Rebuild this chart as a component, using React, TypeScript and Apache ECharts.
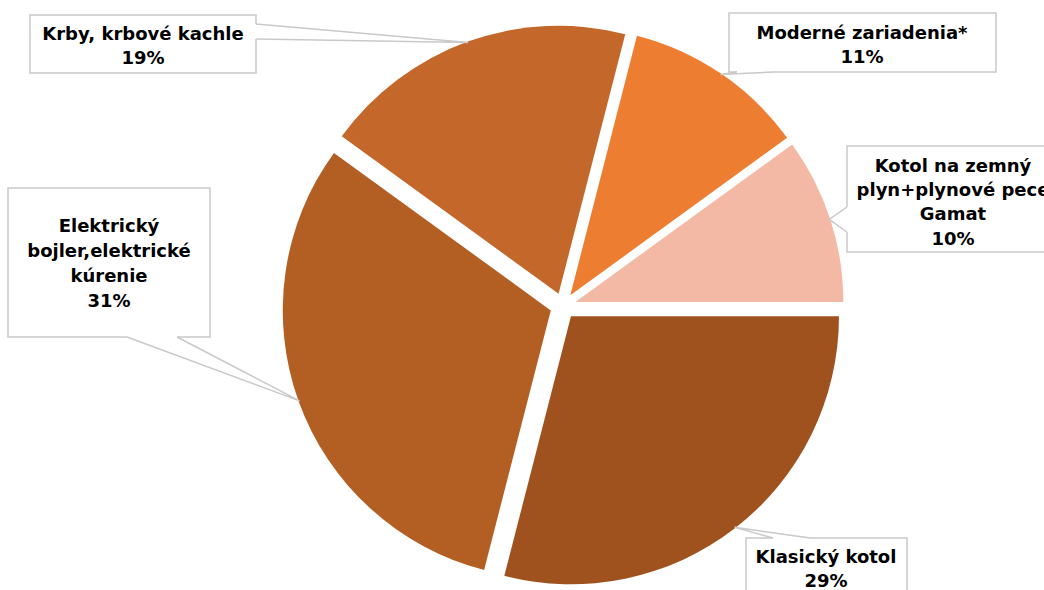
import React, { useEffect, useRef } from "react";
import * as echarts from "echarts";

const categories = [
  "Kotol na zemný\nplyn+plynové pece\nGamat",
  "Moderné zariadenia*",
  "Krby, krbové kachle",
  "Elektrický\nbojler,elektrické\nkúrenie",
  "Klasický kotol",
];
const shares = [10, 11, 19, 31, 29];
const colors = ["#F4B9A5", "#ED7D31", "#C4672A", "#B35E23", "#A0521E"];

// pie geometry
const CENTER: [number, number] = [563, 306];
const RADIUS = 268;
const EXPLODE = 13;

// callout boxes: rect, text centre/top, line height, wedge base points
const boxes = [
  { x: 847, y: 146, w: 212, h: 106, tx: 953, ty: 153, lh: 24.3, a: [847, 207], b: [847, 232], inw: [2, 0] },
  { x: 729, y: 13, w: 267, h: 59, tx: 862, ty: 20, lh: 24, a: [737, 72], b: [773, 72], inw: [0, -2] },
  { x: 30, y: 15, w: 226, h: 58, tx: 143, ty: 21, lh: 24.5, a: [256, 24], b: [256, 39], inw: [-2, 0] },
  { x: 8, y: 188, w: 202, h: 149, tx: 109, ty: 212.5, lh: 25, a: [127, 337], b: [177, 337], inw: [0, -2] },
  { x: 746, y: 538, w: 161, h: 70, tx: 826, ty: 545, lh: 23.5, a: [773, 538], b: [810, 538], inw: [0, 2] },
];

const BORDER = "#C9C9C9";

function buildCallouts() {
  const total = shares.reduce((s, v) => s + v, 0);
  let cum = 0;
  const els: any[] = [];
  shares.forEach((v, i) => {
    const mid = ((cum + v / 2) / total) * 2 * Math.PI;
    cum += v;
    const rr = RADIUS + EXPLODE - 1;
    const anchor = [CENTER[0] + rr * Math.cos(mid), CENTER[1] - rr * Math.sin(mid)];
    const bx = boxes[i];
    const aIn = [bx.a[0] + bx.inw[0], bx.a[1] + bx.inw[1]];
    const bIn = [bx.b[0] + bx.inw[0], bx.b[1] + bx.inw[1]];
    els.push({
      type: "rect",
      shape: { x: bx.x, y: bx.y, width: bx.w, height: bx.h },
      style: { fill: "#ffffff", stroke: BORDER, lineWidth: 1.5 },
      z: 10,
    });
    els.push({
      type: "polygon",
      shape: { points: [aIn, bx.a, anchor, bx.b, bIn] },
      style: { fill: "#ffffff", stroke: null },
      z: 11,
    });
    els.push({
      type: "polyline",
      shape: { points: [bx.a, anchor, bx.b] },
      style: { fill: null, stroke: BORDER, lineWidth: 1.5 },
      z: 12,
    });
    els.push({
      type: "text",
      x: bx.tx,
      y: bx.ty,
      style: {
        text: categories[i] + "\n" + v + "%",
        align: "center",
        verticalAlign: "top",
        fontFamily: "DejaVu Sans",
        fontWeight: "bold",
        fontSize: 18,
        lineHeight: bx.lh,
        fill: "#000000",
      },
      z: 13,
    });
  });
  return els;
}

export default function App() {
  const ref = useRef<HTMLDivElement>(null);
  useEffect(() => {
    if (!ref.current) return;
    const chart = echarts.init(ref.current, undefined, { renderer: "svg" });
    chart.setOption({
      animation: false,
      backgroundColor: "#ffffff",
      series: [
        {
          type: "pie",
          center: CENTER,
          radius: RADIUS,
          startAngle: 0,
          clockwise: false,
          selectedMode: "multiple",
          selectedOffset: EXPLODE,
          emphasis: { disabled: true },
          label: { show: false },
          labelLine: { show: false },
          data: categories.map((name, i) => ({
            name,
            value: shares[i],
            selected: true,
            itemStyle: { color: colors[i] },
            select: { itemStyle: { color: colors[i], borderWidth: 0 } },
          })),
        },
      ],
      graphic: { elements: buildCallouts() },
    });
    return () => chart.dispose();
  }, []);
  return (
    <div
      ref={ref}
      style={{ position: "absolute", left: 0, top: 0, width: 1044, height: 590, background: "#fff" }}
    />
  );
}
